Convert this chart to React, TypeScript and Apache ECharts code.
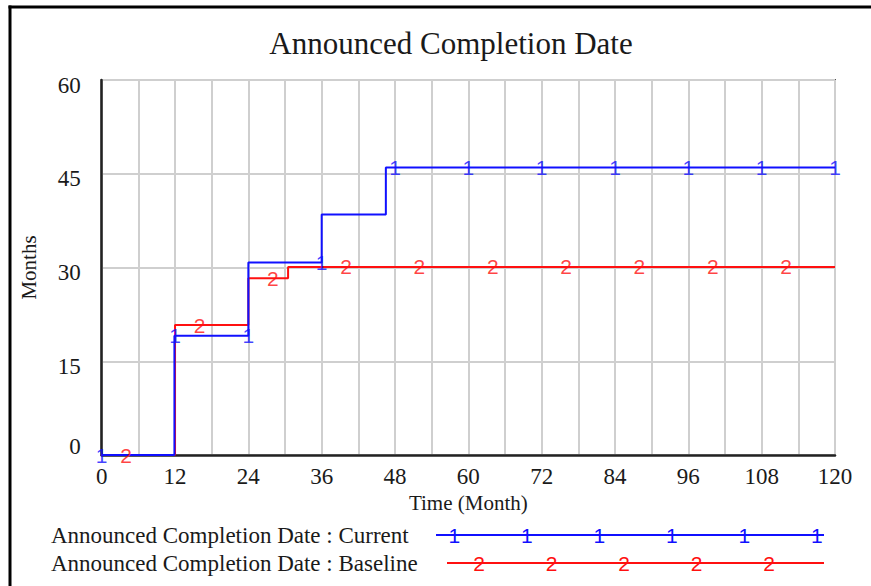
import React, { useEffect, useRef } from "react";
import * as echarts from "echarts";

// ---- data ----
const timeTickLabels = [0, 12, 24, 36, 48, 60, 72, 84, 96, 108, 120];
const monthTickLabels = [0, 15, 30, 45, 60];

const currentTime = [0, 11.9, 24, 36, 46.5, 120];
const currentValue = [0, 19.1, 30.8, 38.5, 46.0, 46.0];

const baselineTime = [0, 12, 24, 30.5, 120];
const baselineValue = [0, 20.8, 28.3, 30.1, 30.1];

const currentMarkerTimes = [0, 12, 24, 36, 48, 60, 72, 84, 96, 108, 120];
const baselineMarkerTimes = [4, 16, 28, 40, 52, 64, 76, 88, 100, 112];

const titleText = "Announced Completion Date";
const xName = "Time (Month)";
const yName = "Months";
const currentName = "Announced Completion Date : Current";
const baselineName = "Announced Completion Date : Baseline";

// value held just before time t (step function)
function valueAt(times: number[], values: number[], t: number): number {
  let v = values[0];
  for (let i = 0; i < times.length; i++) {
    if (times[i] < t) v = values[i];
  }
  return v;
}

const BLUE = "#1010ff";
const RED = "#ff1010";
const SERIF = "'Liberation Serif', 'Times New Roman', serif";
const SANS = "'Liberation Sans', Arial, sans-serif";

export default function App() {
  const ref = useRef<HTMLDivElement>(null);

  useEffect(() => {
    document.body.style.margin = "0";
    if (!ref.current) return;
    const chart = echarts.init(ref.current, undefined, { renderer: "svg" });

    const currentData = currentTime.map((t, i) => [t, currentValue[i]]);
    const baselineData = baselineTime.map((t, i) => [t, baselineValue[i]]);
    const currentMarks = currentMarkerTimes.map((t) => [t, valueAt(currentTime, currentValue, t)]);
    const baselineMarks = baselineMarkerTimes.map((t) => [t, valueAt(baselineTime, baselineValue, t)]);

    const legendGraphics: any[] = [];
    const legendRows = [
      { name: currentName, y: 535, x0: 436, x1: 824, color: BLUE, mark: "1", first: 454.4, n: 6 },
      { name: baselineName, y: 563, x0: 447, x1: 824, color: RED, mark: "2", first: 479, n: 5 },
    ];
    legendRows.forEach((r) => {
      legendGraphics.push({
        type: "text",
        x: 51,
        y: r.y,
        style: { text: r.name, font: `23px ${SERIF}`, fill: "#1a1a1a", verticalAlign: "middle", align: "left" },
      });
      legendGraphics.push({
        type: "line",
        shape: { x1: r.x0, y1: r.y, x2: r.x1, y2: r.y },
        style: { stroke: r.color, lineWidth: 2 },
      });
      for (let k = 0; k < r.n; k++) {
        legendGraphics.push({
          type: "text",
          x: r.first + k * 72.5,
          y: r.y,
          style: { text: r.mark, font: `21px ${SANS}`, fill: r.color, align: "center", verticalAlign: "middle" },
        });
      }
    });

    chart.setOption({
      animation: false,
      backgroundColor: "#ffffff",
      title: {
        text: titleText,
        left: 446,
        top: 23,
        textAlign: "center",
        textStyle: { fontFamily: SERIF, fontSize: 31, fontWeight: "normal", color: "#1a1a1a" },
      },
      grid: {
        left: 101.7,
        right: 36,
        top: 80,
        bottom: 131,
        show: true,
        borderColor: "#555",
        borderWidth: 2,
        backgroundColor: "transparent",
      },
      xAxis: {
        type: "value",
        min: 0,
        max: 120,
        interval: 6,
        name: xName,
        nameLocation: "middle",
        nameGap: 34,
        nameTextStyle: { fontFamily: SERIF, fontSize: 21, color: "#1a1a1a" },
        axisLine: { show: true, lineStyle: { color: "#222", width: 2.5 } },
        axisTick: { show: false },
        axisLabel: {
          fontFamily: SERIF,
          fontSize: 23,
          color: "#1a1a1a",
          margin: 10,
          formatter: (v: number) => (timeTickLabels.includes(v) ? String(v) : ""),
        },
        splitLine: { show: true, lineStyle: { color: "#cfcfcf", width: 2 } },
      },
      yAxis: {
        type: "value",
        min: 0,
        max: 60,
        interval: 15,
        name: yName,
        nameLocation: "middle",
        nameGap: 62,
        nameRotate: 90,
        nameTextStyle: { fontFamily: SERIF, fontSize: 21, color: "#1a1a1a" },
        axisLine: { show: true, lineStyle: { color: "#222", width: 2.5 } },
        axisTick: { show: false },
        axisLabel: {
          fontFamily: SERIF,
          fontSize: 23,
          color: "#1a1a1a",
          margin: 21,
          formatter: (v: number) =>
            monthTickLabels.includes(v) ? (v === 0 ? `{z|${v}}` : `{n|${v}}`) : "",
          rich: {
            z: { fontFamily: SERIF, fontSize: 23, color: "#1a1a1a", padding: [0, 0, 18, 0] },
            n: { fontFamily: SERIF, fontSize: 23, color: "#1a1a1a", padding: [10, 0, 0, 0] },
          },
        },
        splitLine: { show: true, lineStyle: { color: "#cfcfcf", width: 2 } },
      },
      series: [
        {
          name: baselineName,
          type: "line",
          step: "end",
          data: baselineData,
          symbol: "none",
          lineStyle: { color: RED, width: 2 },
          z: 3,
        },
        {
          name: currentName,
          type: "line",
          step: "end",
          data: currentData,
          symbol: "none",
          lineStyle: { color: BLUE, width: 2 },
          z: 4,
        },
        {
          name: baselineName + " marks",
          type: "scatter",
          data: baselineMarks,
          symbol: "circle",
          symbolSize: 1,
          itemStyle: { color: "transparent" },
          label: {
            show: true,
            position: "inside",
            formatter: "2",
            fontFamily: SANS,
            fontSize: 21,
            color: RED,
          },
          z: 5,
        },
        {
          name: currentName + " marks",
          type: "scatter",
          data: currentMarks,
          symbol: "circle",
          symbolSize: 1,
          itemStyle: { color: "transparent" },
          label: {
            show: true,
            position: "inside",
            formatter: "1",
            fontFamily: SANS,
            fontSize: 21,
            color: BLUE,
          },
          z: 6,
        },
      ],
      graphic: [
        {
          type: "line",
          shape: { x1: 8.5, y1: 7, x2: 871, y2: 7 },
          style: { stroke: "#000", lineWidth: 3 },
        },
        {
          type: "line",
          shape: { x1: 10, y1: 5.5, x2: 10, y2: 586 },
          style: { stroke: "#000", lineWidth: 3 },
        },
        ...legendGraphics,
      ],
    });

    return () => chart.dispose();
  }, []);

  return <div ref={ref} style={{ width: 871, height: 586 }} />;
}
